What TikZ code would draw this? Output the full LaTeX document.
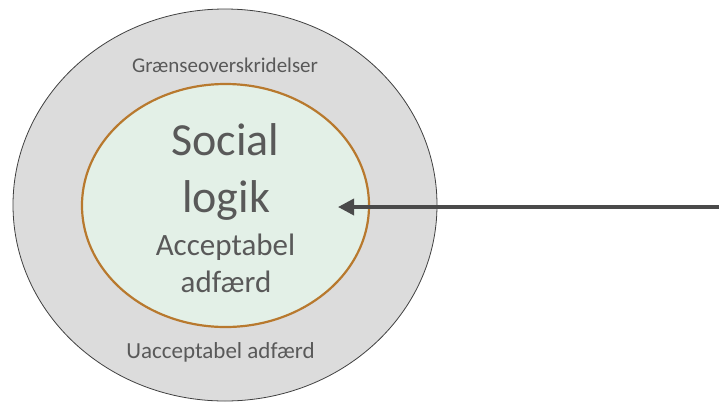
\documentclass[tikz,border=0pt]{standalone}
\usepackage{fontspec}
\setmainfont{Carlito}
\usetikzlibrary{shapes.geometric,arrows.meta}
\definecolor{ringgray}{HTML}{DCDCDC}
\definecolor{ringline}{HTML}{404040}
\definecolor{corefill}{HTML}{E3F0E7}
\definecolor{coreline}{HTML}{B8792E}
\definecolor{txtgray}{HTML}{595959}
\definecolor{arrowgray}{HTML}{4A4A4A}

\begin{document}
\begin{tikzpicture}
	[x=1pt, y=-1pt,
	every node/.style={text=txtgray, inner sep=0pt},
	zone/.style={ellipse, draw, inner sep=0pt},
	big/.style={font=\fontsize{46}{55}\selectfont, anchor=base},
	mid/.style={font=\fontsize{31}{37}\selectfont, anchor=base},
	small/.style={font=\fontsize{21}{25}\selectfont, anchor=base}]
	\useasboundingbox (0,0) rectangle (719,402);
	\node (outer) [zone, fill=ringgray, draw=ringline, line width=0.8pt,
		minimum width=424pt, minimum height=392pt] at (225,205) {};
	\node (inner) [zone, fill=corefill, draw=coreline, line width=2.2pt,
		minimum width=287pt, minimum height=243pt] at (225.5,205.5) {};
	\node (over) [small] at (225,72) {Grænseoverskridelser};
	\node (social) [big] at (225.5,155) {Social};
	\node (logik) [big] at (226,212) {logik};
	\node (accept) [mid] at (225.5,255) {Acceptabel};
	\node (adfaerd) [mid] at (226,292) {adfærd};
	\node (unaccept) [small, font=\fontsize{23}{27}\selectfont] at (220.5,358) {Uacceptabel adfærd};
	\coordinate (from) at (719,207);
	\coordinate (tip) at (338,207);
	\draw [arrowgray, line width=3.5pt, -{Triangle[length=16pt,width=16pt]}] (from) -- (tip);
\end{tikzpicture}
\end{document}
